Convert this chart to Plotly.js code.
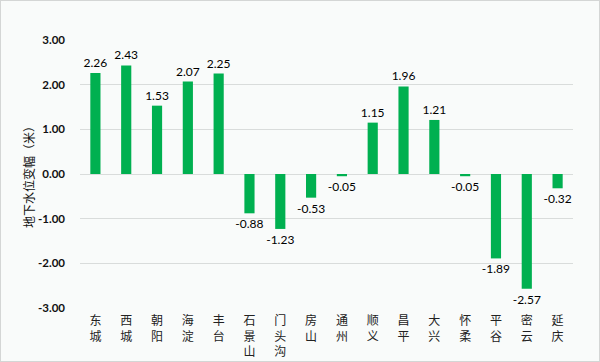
<!DOCTYPE html>
<html><head><meta charset="utf-8">
<script src="https://cdn.plot.ly/plotly-3.0.1.min.js"></script>
<style>html,body{margin:0;padding:0;background:#fff;}#c{width:600px;height:362px;}</style>
</head><body><div id="c"></div>
<script>
const districts = ["东城","西城","朝阳","海淀","丰台","石景山","门头沟","房山","通州","顺义","昌平","大兴","怀柔","平谷","密云","延庆"];
const changes = [2.26,2.43,1.53,2.07,2.25,-0.88,-1.23,-0.53,-0.05,1.15,1.96,1.21,-0.05,-1.89,-2.57,-0.32];
const yTicks = [-3,-2,-1,0,1,2,3];
const yTickText = ["-3.00","-2.00","-1.00","0.00","1.00","2.00","3.00"];

const cjk = '"Noto Sans CJK SC", sans-serif';
const trace = {
  type: 'bar',
  x: districts,
  y: changes,
  marker: {color: '#00b050'},
  text: changes.map(v => v.toFixed(2)),
  textposition: 'outside',
  textangle: 0,
  constraintext: 'none',
  cliponaxis: false,
  textfont: {family: 'Lato, "Open Sans", sans-serif', size: 12, color: '#000'},
  hoverinfo: 'none'
};
const layout = {
  width: 600, height: 362,
  paper_bgcolor: '#f9fbfa',
  plot_bgcolor: '#f9fbfa',
  margin: {l: 80, r: 27, t: 40, b: 54},
  bargap: 0.67,
  showlegend: false,
  xaxis: {
    tickmode: 'array',
    tickvals: districts,
    ticktext: districts.map(d => d.split('').join('<br>')),
    tickfont: {family: cjk, size: 12, color: '#222'},
    showgrid: false, zeroline: false, showline: false, ticks: '',
    ticklabelstandoff: 4
  },
  yaxis: {
    range: [-3, 3],
    tickmode: 'array',
    tickvals: yTicks,
    ticktext: yTickText,
    tickfont: {family: 'Lato, "Open Sans", sans-serif', size: 11.5, color: '#111', weight: 'bold'},
    gridcolor: '#d9dcdb', gridwidth: 1,
    zeroline: true, zerolinecolor: '#d9dcdb', zerolinewidth: 1,
    ticks: '', ticklabelstandoff: 14,
    title: {text: '地下水位变幅（米）', font: {family: cjk, size: 12, color: '#111'}, standoff: 0}
  }
};
Plotly.newPlot('c', [trace], layout, {staticPlot: true});
</script>
<div style="position:absolute;left:0;top:0;width:598px;height:360px;border:1px solid #d4d6d5;pointer-events:none;"></div>
</body></html>
